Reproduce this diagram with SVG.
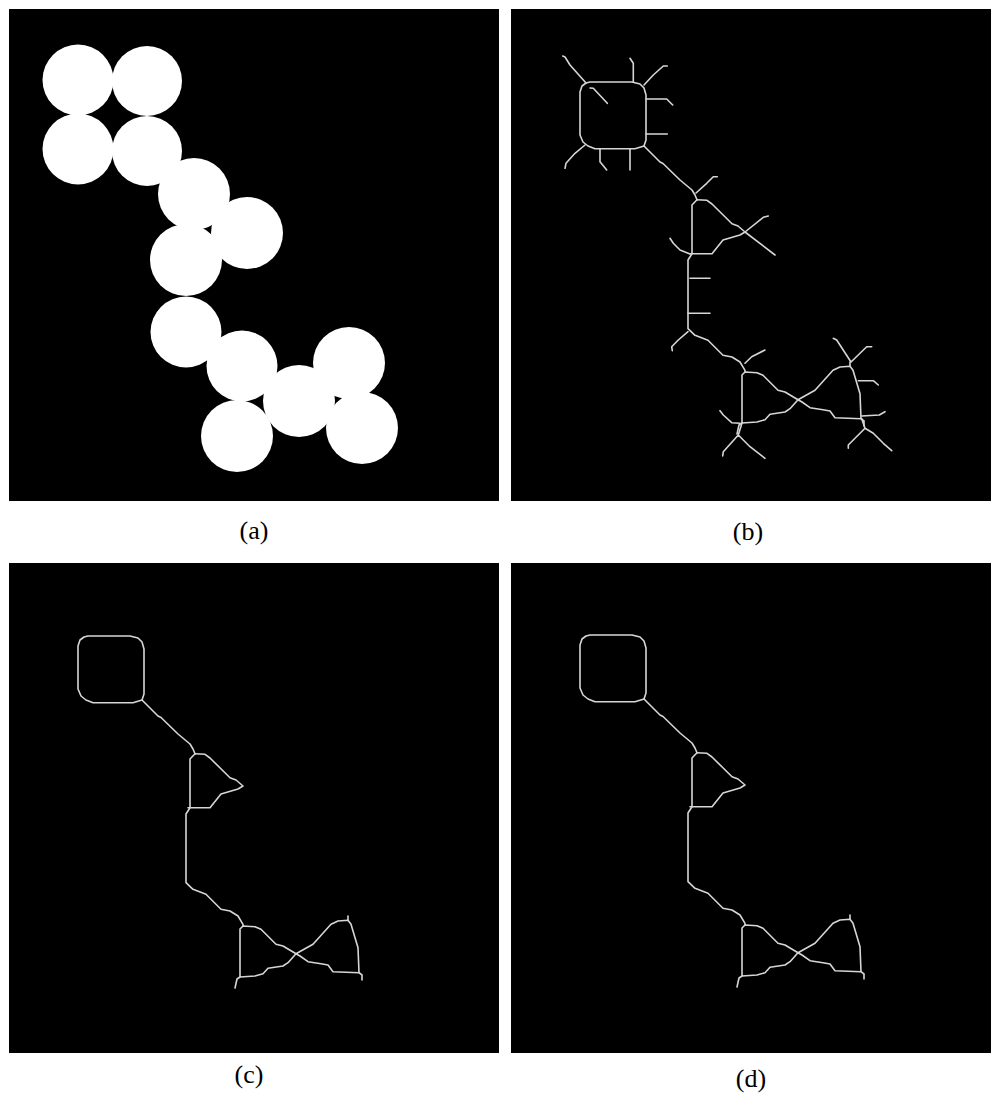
<svg xmlns="http://www.w3.org/2000/svg" xmlns:xlink="http://www.w3.org/1999/xlink" width="991" height="1098" viewBox="0 0 991 1098">
<style>
.panel{fill:#000}
.blob{fill:#fff}
.sk{fill:none;stroke:#d6d6d6;stroke-width:1.6;stroke-linejoin:round;stroke-linecap:round}
.lbl{font-family:"Liberation Serif","DejaVu Serif",serif;font-size:26px;fill:#000;text-anchor:middle}
</style>
<defs>
<g id="mainSkel" class="sk">
<path d="M590,82 L632,82 L640,84 L644,88 L646,95 L646,140 L644,146 L635,148.7 L595,148.7 L588,146 L583,142 L580,135 L580,92 L582,86 L586,83 Z"/>
<path d="M644,146 L652,154 L660,162 L663,163.5 L680,180 L692,190 L695,195 L697,199.7"/>
<path d="M697,199.7 L707,200.3 L712,204 L732,223.7 L738,226 L745,232 L740,235 L723,240 L712,253.7 L690,253.7"/>
<path d="M697,199.7 L692,205 L692,253.7 L688,260 L688,328.7 L695,335.3 L708,340.3 L723,355.3 L732,357 L740,362 L745,370.3 L745,372"/>
<path d="M745,372 L742,375 L742,423 L757,422 L765,419.7 L770,414.3 L785,412 L790,408.7 L798,399.7 L802,402 L810,407.7 L823,409.7 L830,411 L835,417.7 L861,418.7 L860,393.7 L853,370.3 L850,366.3 L840,367 L833,370.3 L815,390.3 L798,399.7 L785,392 L778,390.3 L763,375.3 L757,372.7 L745,372"/>
<path d="M742,423 L739,425 L737,434 M861,418.7 L864,421 L864,426 M850,366.3 L850,362"/>
</g>
</defs>
<g id="panel-a">
<rect class="panel" x="9" y="9" width="490" height="492"/>
<g class="blob">
<circle cx="78" cy="80" r="35.5"/>
<circle cx="147" cy="81" r="35"/>
<circle cx="78" cy="149" r="35.5"/>
<circle cx="147" cy="151" r="35"/>
<circle cx="194" cy="194" r="36"/>
<circle cx="247" cy="233" r="36"/>
<circle cx="186" cy="260" r="36"/>
<circle cx="186" cy="332" r="35.5"/>
<circle cx="242" cy="366" r="35.5"/>
<circle cx="349" cy="363" r="36"/>
<circle cx="299" cy="401" r="36"/>
<circle cx="237" cy="436" r="36"/>
<circle cx="362" cy="428" r="36"/>
</g>
</g>
<g id="panel-b">
<rect class="panel" x="511" y="9" width="480" height="492"/>
<use xlink:href="#mainSkel" href="#mainSkel"/>
<path class="sk" d="M586,83 L570,65 L565,57 L562.7,56 M590,88 L593.3,88.3 L607.3,103.3 M633.3,82 L633.3,63.3 L630,58.3 M644,85 L653.3,75 L663.3,66 L667.3,66 M646,99 L666.7,99 L672.7,105 M646,134 L667.3,134 M585,145 L575,153.3 L566,163.3 L565,168.3 M600,149 L600,161.7 L606.7,170 M630,149 L630,170 M696,193 L706.7,183.3 L713.3,176.7 L717.3,176.7 M745,232 L763.3,217.3 L768.3,216 M745,232 L775,255 M690,254 L680,250 L673.3,243.3 L670,238.3 M690,278.3 L710,278.3 M688,313.3 L710,313.3 M688,331.7 L678.3,340 L671.7,346.7 L672.3,350.7 M745,363.3 L751.7,356.7 L765,350 M740,423.3 L731.7,422.7 L723.3,415 L720,410.7 M742,423 L738.3,435 L723.3,451.7 L722.7,456 M738.3,435 L750,446.7 L765,458.3 M851,362 L836.7,340 L833.3,338.3 M851,362 L866.7,346.7 L871.7,346.7 M858.3,380.7 L873.3,380.7 L878.3,385 M861.7,416 L879.3,415 L885,411.7 M861.7,418.7 L865,428.3 L848.3,445 L848.3,448.3 M865,428.3 L873.3,433.3 L883.3,443.3 L891.7,450.7"/>
</g>
<g id="panel-c">
<rect class="panel" x="9" y="563" width="490" height="490"/>
<use xlink:href="#mainSkel" href="#mainSkel" transform="translate(-502,554)"/>
</g>
<g id="panel-d">
<rect class="panel" x="511" y="563" width="480" height="490"/>
<use xlink:href="#mainSkel" href="#mainSkel" transform="translate(0,553)"/>
</g>
<g id="labels">
<text class="lbl" x="254" y="539">(a)</text>
<text class="lbl" x="748" y="540">(b)</text>
<text class="lbl" x="249" y="1083">(c)</text>
<text class="lbl" x="751" y="1087">(d)</text>
</g>
</svg>
